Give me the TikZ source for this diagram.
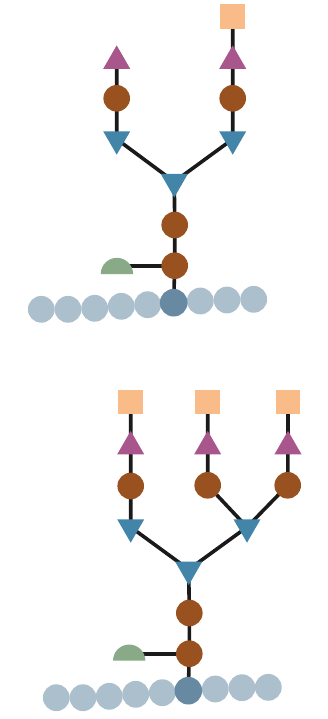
\documentclass[tikz,border=0pt]{standalone}
\usetikzlibrary{shapes.geometric,backgrounds}
\definecolor{cbrown}{HTML}{9A5120}
\definecolor{cblue}{HTML}{4285A9}
\definecolor{cpurple}{HTML}{A8568C}
\definecolor{corange}{HTML}{F9BB87}
\definecolor{cgreen}{HTML}{88AA87}
\definecolor{clight}{HTML}{ACBFCD}
\definecolor{cdark}{HTML}{678AA2}
\definecolor{cline}{HTML}{1A1A1A}
\tikzset{
  glyph/.style={inner sep=0pt,outer sep=0pt,draw=none,text width=0pt,text height=0pt,text depth=0pt},
  hexose/.style={glyph,circle,fill=cbrown,minimum size=26.6pt},
  bead/.style={glyph,circle,fill=clight,minimum size=26.8pt},
  darkbead/.style={glyph,circle,fill=cdark,minimum size=27.6pt},
  sialic/.style={glyph,rectangle,fill=corange,minimum size=24.8pt},
  uptri/.style={glyph,regular polygon,regular polygon sides=3,fill=cpurple,minimum size=31.2pt},
  downtri/.style={glyph,regular polygon,regular polygon sides=3,shape border rotate=180,fill=cblue,minimum size=31.2pt},
  halfdisc/.style={glyph,semicircle,fill=cgreen,minimum size=16.15pt,anchor=chord center},
  link/.style={draw=cline,line width=3.6pt}
}
\begin{document}
\begin{tikzpicture}[x=1pt,y=-1pt]
\useasboundingbox (0,0) rectangle (327,719);
% upper diagram
\node[bead] (a1) at (41.3,309.3) {};
\node[bead] (a2) at (68,309.3) {};
\node[bead] (a3) at (94.7,308.3) {};
\node[bead] (a4) at (121.3,306.3) {};
\node[bead] (a5) at (147.7,304.7) {};
\node[bead] (a7) at (200.3,301) {};
\node[bead] (a8) at (227,300) {};
\node[bead] (a9) at (253.7,299.3) {};
\node[darkbead] (a6) at (173.7,302.7) {};
\node[hexose] (ac1) at (174.7,265.7) {};
\node[hexose] (ac2) at (174.7,225) {};
\node[downtri] (at0) at (174.3,181.8) {};
\node[downtri] (atl) at (116.7,139.1) {};
\node[downtri] (atr) at (232.7,139.1) {};
\node[hexose] (acl) at (116.7,98.3) {};
\node[hexose] (acr) at (232.7,98.3) {};
\node[uptri] (aul) at (116.7,61) {};
\node[uptri] (aur) at (232.7,61) {};
\node[sialic] (as) at (232.7,16.3) {};
\node[halfdisc] (ah) at (116.9,274) {};
% lower diagram
\node[bead] (b1) at (56.3,697.7) {};
\node[bead] (b2) at (83,697.7) {};
\node[bead] (b3) at (109.3,696.3) {};
\node[bead] (b4) at (135.7,694.3) {};
\node[bead] (b5) at (162.3,692.7) {};
\node[bead] (b7) at (215.3,689) {};
\node[bead] (b8) at (242,687.7) {};
\node[bead] (b9) at (268.3,687.3) {};
\node[darkbead] (b6) at (188.3,690.7) {};
\node[hexose] (bc1) at (189.3,653.7) {};
\node[hexose] (bc2) at (189.3,613) {};
\node[downtri] (bt0) at (188.7,569.5) {};
\node[downtri] (btl) at (130.7,527.1) {};
\node[downtri] (btr) at (247,527.1) {};
\node[hexose] (bcl) at (130.7,486) {};
\node[hexose] (bcm) at (207.7,485.3) {};
\node[hexose] (bcr) at (287.7,485.3) {};
\node[uptri] (bul) at (130.7,446.5) {};
\node[uptri] (bum) at (207.7,446.5) {};
\node[uptri] (bur) at (288,446.5) {};
\node[sialic] (bsl) at (130.7,402) {};
\node[sialic] (bsm) at (207.7,402) {};
\node[sialic] (bsr) at (288,402) {};
\node[halfdisc] (bh) at (129.2,660.7) {};
\coordinate (ahe) at (ah.chord center |- ac1.center);
\coordinate (bhe) at (bh.chord center |- bc1.center);
\begin{pgfonlayer}{background}
\draw[link] (a6.center) -- (ac1.center) -- (ac2.center) -- (at0.center);
\draw[link] (ahe) -- (ac1.center);
\draw[link] (at0.center) -- (atl.center) -- (acl.center) -- (aul.center);
\draw[link] (at0.center) -- (atr.center) -- (acr.center) -- (aur.center) -- (as.center);
\draw[link] (b6.center) -- (bc1.center) -- (bc2.center) -- (bt0.center);
\draw[link] (bhe) -- (bc1.center);
\draw[link] (bt0.center) -- (btl.center) -- (bcl.center) -- (bul.center) -- (bsl.center);
\draw[link] (bt0.center) -- (btr.center);
\draw[link] (btr.center) -- (bcm.center) -- (bum.center) -- (bsm.center);
\draw[link] (btr.center) -- (bcr.center) -- (bur.center) -- (bsr.center);
\end{pgfonlayer}
\end{tikzpicture}
\end{document}
